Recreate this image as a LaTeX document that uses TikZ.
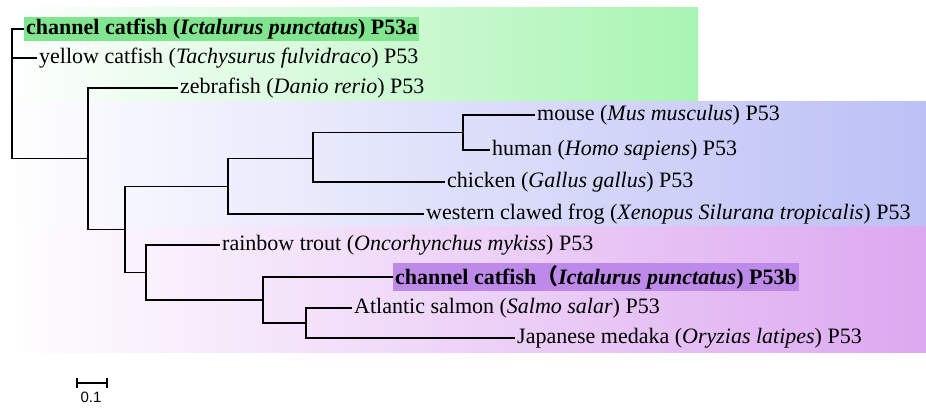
\documentclass[tikz,border=0pt]{standalone}
\usepackage{fontspec}
\setmainfont{Liberation Serif}
\newfontfamily\barfont{Liberation Sans}
\newfontfamily\cjk{Noto Sans CJK SC}
\definecolor{grnbg}{HTML}{A8F5B2}
\definecolor{grnhl}{HTML}{80E58E}
\definecolor{blubg}{HTML}{BCC0F5}
\definecolor{purbg}{HTML}{DCA8F0}
\definecolor{purhl}{HTML}{BE8AEA}
\begin{document}
\begin{tikzpicture}[x=1pt,y=-1pt,
  leaf/.style={anchor=west,inner xsep=2pt,inner ysep=2pt,font=\fontsize{22}{24}\selectfont},
  hilite/.style={leaf,font=\fontsize{22}{24}\selectfont\bfseries,fill=#1},
  branch/.style={draw,line width=1.6pt}]
\useasboundingbox (0,0) rectangle (926,408);
% clade backgrounds
\shade[left color=white,right color=grnbg] (0,7) rectangle (698,101);
\shade[left color=white,right color=blubg] (0,101) rectangle (926,226);
\shade[left color=white,right color=purbg] (0,226) rectangle (926,352);
% leaves
\node[hilite=grnhl] (p53a) at (24,29) {channel catfish (\textit{Ictalurus punctatus}) P53a};
\node[leaf] (yel) at (37,58) {yellow catfish (\textit{Tachysurus fulvidraco}) P53};
\node[leaf] (zeb) at (178,88) {zebrafish (\textit{Danio rerio}) P53};
\node[leaf] (mou) at (535,115) {mouse (\textit{Mus musculus}) P53};
\node[leaf] (hum) at (490,150) {human (\textit{Homo sapiens}) P53};
\node[leaf] (chk) at (445,182) {chicken (\textit{Gallus gallus}) P53};
\node[leaf] (frg) at (424,214) {western clawed frog (\textit{Xenopus Silurana tropicalis}) P53};
\node[leaf] (trt) at (220,245) {rainbow trout (\textit{Oncorhynchus mykiss}) P53};
\node[hilite=purhl] (p53b) at (393,277) {channel catfish{\cjk （}\textit{Ictalurus punctatus}) P53b};
\node[leaf] (sal) at (352,308) {Atlantic salmon (\textit{Salmo salar}) P53};
\node[leaf] (med) at (515,338) {Japanese medaka (\textit{Oryzias latipes}) P53};
% internal nodes
\coordinate (root) at (12,94);
\coordinate (nA) at (88,158.5);
\coordinate (nB) at (125,229.5);
\coordinate (nC) at (228,186.5);
\coordinate (nD) at (313,158.5);
\coordinate (nE) at (463,132.5);
\coordinate (nF) at (146,272.5);
\coordinate (nG) at (263,300);
\coordinate (nH) at (306,323);
\foreach \p/\c in {root/p53a.west,root/yel.west,root/nA,nA/zeb.west,nA/nB,
  nB/nC,nB/nF,nC/nD,nC/frg.west,nD/nE,nD/chk.west,nE/mou.west,nE/hum.west,
  nF/trt.west,nF/nG,nG/p53b.west,nG/nH,nH/sal.west,nH/med.west}
  \draw[branch] (\p) |- (\c);
% scale bar
\coordinate (s0) at (77,383);
\coordinate (s1) at (107,383);
\draw[line width=1.5pt] (s0) -- (s1);
\draw[line width=1.5pt] ([yshift=5pt]s0) -- ([yshift=-5pt]s0);
\draw[line width=1.5pt] ([yshift=5pt]s1) -- ([yshift=-5pt]s1);
\node[font=\barfont\fontsize{15}{16}\selectfont,inner sep=0pt] (sbar) at (91,397) {0.1};
\end{tikzpicture}
\end{document}
